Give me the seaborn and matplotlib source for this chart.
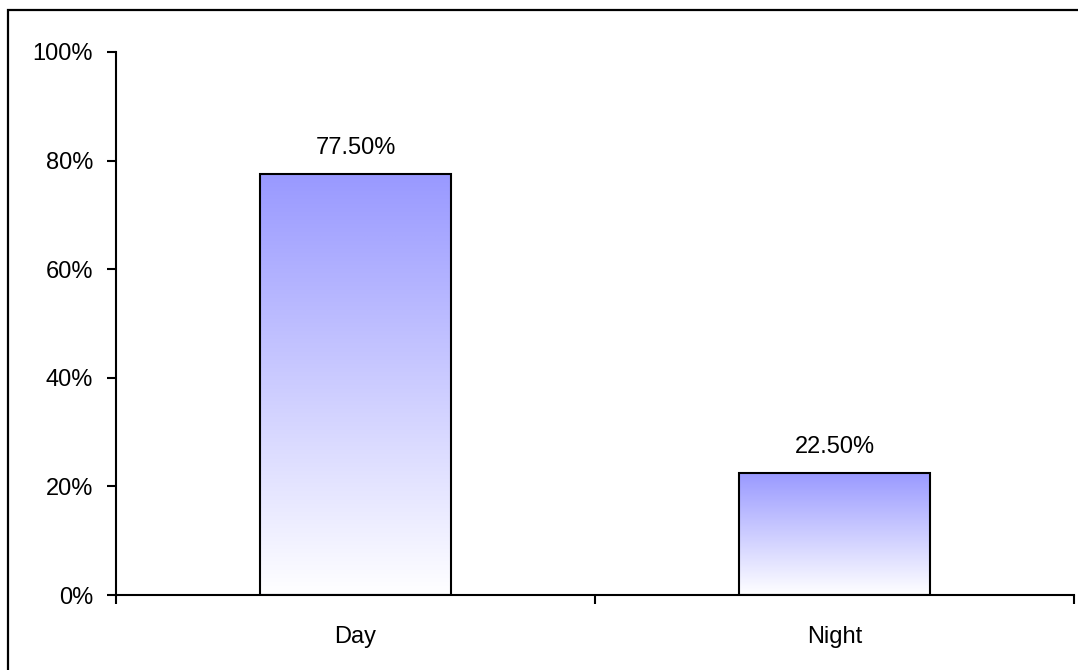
import matplotlib
matplotlib.use("Agg")
import matplotlib.pyplot as plt
import matplotlib.patches as mpatches
import numpy as np
import pandas as pd
import seaborn as sns
from matplotlib.colors import LinearSegmentedColormap
from matplotlib.ticker import FixedLocator, PercentFormatter

categories = ["Day", "Night"]
values = [77.5, 22.5]
value_labels = ["77.50%", "22.50%"]
y_ticks = [0, 20, 40, 60, 80, 100]

sns.set_theme(style="white")
plt.rcParams["font.family"] = ["Liberation Sans", "DejaVu Sans"]

df = pd.DataFrame({"cat": categories, "val": values})

fig = plt.figure(figsize=(10.78, 6.70), dpi=100)
ax = fig.add_axes([116 / 1078, 75 / 670, (1074 - 116) / 1078, (595 - 52) / 670])

sns.barplot(data=df, x="cat", y="val", ax=ax, width=0.4, color="white",
            edgecolor="black", linewidth=1.5, zorder=3)

cmap = LinearSegmentedColormap.from_list("grad", ["#ffffff", "#9999ff"])
for patch in ax.patches:
    x0, y0 = patch.get_x(), patch.get_y()
    w, h = patch.get_width(), patch.get_height()
    grad = np.linspace(0, 1, 256).reshape(-1, 1)
    im = ax.imshow(grad, cmap=cmap, aspect="auto", origin="lower",
                   extent=[x0, x0 + w, y0, y0 + h], zorder=2, interpolation="bilinear")
    im.set_clip_path(patch)
    patch.set_facecolor("none")

for i, (v, lab) in enumerate(zip(values, value_labels)):
    ax.annotate(lab, (i, v), xytext=(0, 11), textcoords="offset points",
                ha="center", va="bottom", fontsize=17, color="black")

ax.set_xlim(-0.5, len(categories) - 0.5)
ax.set_ylim(0, 100)
ax.set_yticks(y_ticks)
ax.yaxis.set_major_formatter(PercentFormatter(decimals=0))
ax.set_xlabel("")
ax.set_ylabel("")

ax.xaxis.set_minor_locator(FixedLocator([-0.5, 0.5, 1.5]))
ax.tick_params(axis="x", which="major", length=0, pad=22.5, labelsize=17, colors="black")
ax.tick_params(axis="x", which="minor", bottom=True, length=6.5, width=1.5, direction="out", color="black")
ax.tick_params(axis="y", left=True, length=6.5, width=1.5, direction="out", pad=10,
               labelsize=17, colors="black")

for s in ["top", "right"]:
    ax.spines[s].set_visible(False)
for s in ["left", "bottom"]:
    ax.spines[s].set_color("black")
    ax.spines[s].set_linewidth(1.5)
    ax.spines[s].set_zorder(4)

# chart area border (only top and left visible within the image)
border = mpatches.Rectangle((7.5 / 1078, -0.1), 1.2, 1 - 9.5 / 670 + 0.1,
                            transform=fig.transFigure, fill=False,
                            edgecolor="black", linewidth=1.6)
fig.add_artist(border)

fig.savefig("out.png", dpi=100, facecolor="white")
